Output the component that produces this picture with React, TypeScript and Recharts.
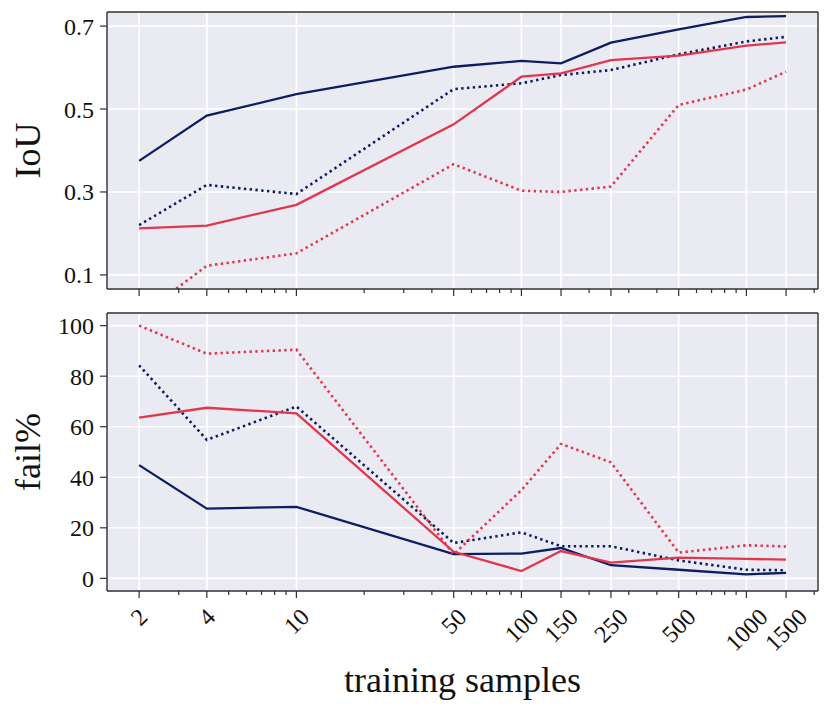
import { CartesianGrid, Line, LineChart, ReferenceLine, XAxis, YAxis } from 'recharts'

// Training-set sizes (log x axis) and the labelled ticks.
const samples = [2, 4, 10, 50, 100, 150, 250, 500, 1000, 1500]
const majorTicks = [2, 4, 10, 50, 100, 150, 250, 500, 1000, 1500]
const minorTicks = [3, 5, 6, 7, 8, 9, 20, 30, 40, 60, 70, 80, 90, 200, 300, 400, 600, 700, 800, 900, 2000]
const xDomain = [1.44, 2080]

// IoU panel
const iouBlueSolid = [0.375, 0.484, 0.536, 0.602, 0.616, 0.61, 0.66, 0.692, 0.722, 0.724]
const iouBlueDotted = [0.22, 0.317, 0.295, 0.548, 0.562, 0.582, 0.594, 0.632, 0.663, 0.674]
const iouRedSolid = [0.212, 0.219, 0.269, 0.463, 0.578, 0.586, 0.618, 0.629, 0.653, 0.661]
const iouRedDotted = [0.0, 0.122, 0.152, 0.367, 0.303, 0.3, 0.313, 0.51, 0.547, 0.59]
const iouTicks = [0.1, 0.3, 0.5, 0.7]

// fail% panel
const failBlueSolid = [44.8, 27.6, 28.3, 9.6, 9.8, 12.0, 5.2, 3.4, 1.6, 2.2]
const failBlueDotted = [84.3, 54.8, 68.0, 14.0, 18.2, 12.7, 12.7, 7.1, 3.4, 3.2]
const failRedSolid = [63.6, 67.5, 65.3, 10.5, 2.9, 10.8, 6.2, 8.2, 7.7, 7.4]
const failRedDotted = [100, 88.9, 90.5, 9.5, 34.9, 53.2, 45.9, 10.2, 13.1, 12.6]
const failTicks = [0, 20, 40, 60, 80, 100]

const iouData = samples.map((n, i) => ({
  n,
  blueSolid: iouBlueSolid[i],
  blueDotted: iouBlueDotted[i],
  redSolid: iouRedSolid[i],
  redDotted: iouRedDotted[i],
}))

const failData = samples.map((n, i) => ({
  n,
  blueSolid: failBlueSolid[i],
  blueDotted: failBlueDotted[i],
  redSolid: failRedSolid[i],
  redDotted: failRedDotted[i],
}))

const allXTicks = [...majorTicks, ...minorTicks].sort((a, b) => a - b)

const font = '"Liberation Serif", "Times New Roman", serif'
const navy = '#0C1D62'
const red = '#E2364F'
const frame = '#2E2E2E'
const bg = '#EAEAF2'
const tickFont = 24

function XTick(props: any) {
  const { x, y, payload, showLabel } = props
  const v = payload.value
  const major = majorTicks.includes(v)
  const len = major ? 7 : 4
  const label = String(v)
  // rotated label: box centred under the tick, top 16px below the axis
  const box = (label.length * 0.5 * tickFont + 0.68 * tickFont) * 0.707
  const cy = y + 16 + box / 2
  return (
    <g>
      <line x1={x} x2={x} y1={y} y2={y + len} stroke={frame} strokeWidth={1.2} />
      {showLabel && major && (
        <text
          x={x}
          y={cy}
          dy="0.34em"
          textAnchor="middle"
          transform={`rotate(-45, ${x}, ${cy})`}
          style={{ fontSize: tickFont, fontFamily: font }}
          fill="#111"
        >
          {label}
        </text>
      )}
    </g>
  )
}

function Panel(props: any) {
  const { data, yDomain, yTicks, yLabel, height, top, xHeight, showX } = props
  return (
    <LineChart
      width={830}
      height={height}
      data={data}
      margin={{ top, right: 12, bottom: 0, left: 0 }}
    >
      <CartesianGrid vertical={false} stroke="#fff" strokeWidth={1.6} fill={bg} fillOpacity={1} />
      {majorTicks.map((t) => (
        <ReferenceLine key={`vgrid-${t}`} x={t} stroke="#fff" strokeWidth={1.6} />
      ))}
      {/* top and right spines */}
      <ReferenceLine y={yDomain[1]} stroke={frame} strokeWidth={1.4} />
      <ReferenceLine x={xDomain[1]} stroke={frame} strokeWidth={1.4} />
      <XAxis
        dataKey="n"
        type="number"
        scale="log"
        domain={xDomain}
        ticks={allXTicks}
        interval={0}
        tickSize={0}
        tickMargin={0}
        tickLine={false}
        height={xHeight}
        axisLine={{ stroke: frame, strokeWidth: 1.4 }}
        tick={(p: any) => <XTick {...p} showLabel={showX} />}
        label={
          showX
            ? { value: 'training samples', position: 'insideBottom', offset: 18, fontSize: 36, fontFamily: font, fill: '#111' }
            : undefined
        }
      />
      <YAxis
        type="number"
        domain={yDomain}
        allowDataOverflow
        ticks={yTicks}
        width={107}
        tickSize={7}
        tickMargin={6}
        tickLine={{ stroke: frame, strokeWidth: 1.2 }}
        axisLine={{ stroke: frame, strokeWidth: 1.4 }}
        tick={{ fontSize: tickFont, fontFamily: font, fill: '#111', style: { fontFamily: font } }}
        label={{
          value: yLabel,
          angle: -90,
          position: 'insideLeft',
          offset: 27,
          fontSize: 36,
          fontFamily: font,
          fill: '#111',
          style: { textAnchor: 'middle' },
        }}
      />
      <Line dataKey="blueSolid" stroke={navy} strokeWidth={2.3} dot={false} isAnimationActive={false} />
      <Line dataKey="blueDotted" stroke={navy} strokeWidth={2.6} strokeDasharray="2.4 3.4" dot={false} isAnimationActive={false} />
      <Line dataKey="redSolid" stroke={red} strokeWidth={2.3} dot={false} isAnimationActive={false} />
      <Line dataKey="redDotted" stroke={red} strokeWidth={2.6} strokeDasharray="2.4 3.4" dot={false} isAnimationActive={false} />
    </LineChart>
  )
}

export default function App() {
  return (
    <div style={{ position: 'absolute', left: 0, top: 0, width: 830, height: 710, background: '#fff' }}>
      <Panel data={iouData} yDomain={[0.066, 0.734]} yTicks={iouTicks} yLabel="IoU" height={300} top={12} xHeight={11} showX={false} />
      <Panel data={failData} yDomain={[-5, 105]} yTicks={failTicks} yLabel="fail%" height={410} top={13} xHeight={119} showX />
    </div>
  )
}
